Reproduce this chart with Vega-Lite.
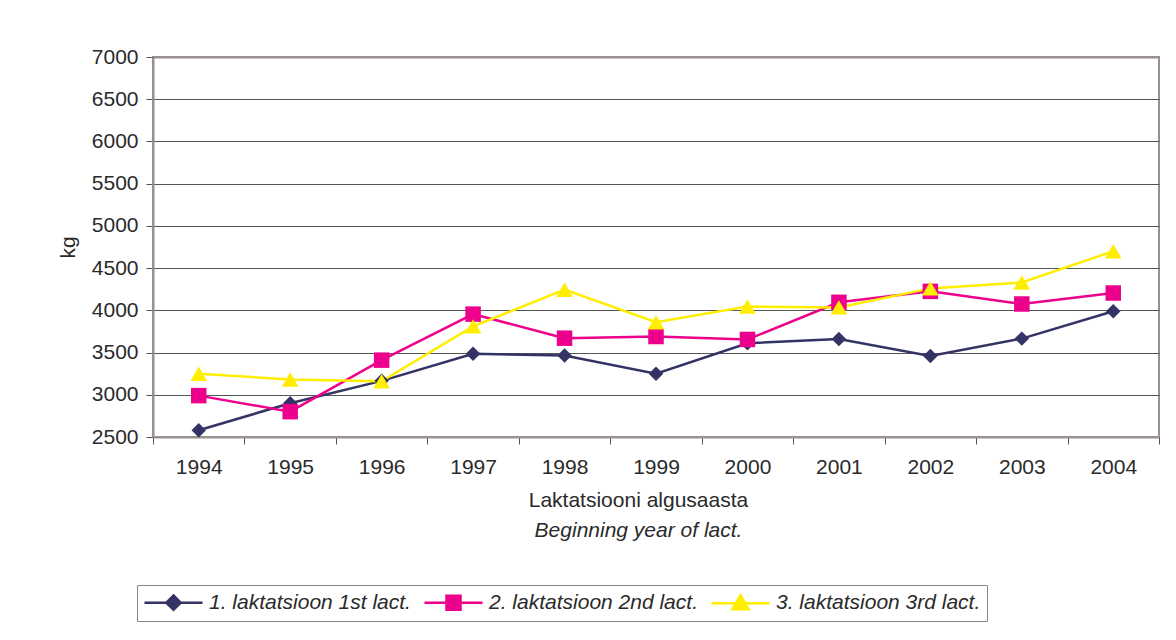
{
  "$schema": "https://vega.github.io/schema/vega-lite/v6.json",
  "width": 1006,
  "height": 380,
  "autosize": "none",
  "padding": {"left": 153, "top": 57, "right": 17, "bottom": 203},
  "background": "white",
  "config": {
    "font": "Liberation Sans",
    "view": {"stroke": "#9a908e", "strokeWidth": 2},
    "axis": {"labelFont": "Liberation Sans", "titleFont": "Liberation Sans", "labelColor": "#2a2a2a", "titleColor": "#2a2a2a"}
  },
  "data": {
    "values": [
      {"year": "1994", "series": "1. laktatsioon 1st lact.", "kg": 2580},
      {"year": "1995", "series": "1. laktatsioon 1st lact.", "kg": 2900},
      {"year": "1996", "series": "1. laktatsioon 1st lact.", "kg": 3165},
      {"year": "1997", "series": "1. laktatsioon 1st lact.", "kg": 3485},
      {"year": "1998", "series": "1. laktatsioon 1st lact.", "kg": 3465},
      {"year": "1999", "series": "1. laktatsioon 1st lact.", "kg": 3250},
      {"year": "2000", "series": "1. laktatsioon 1st lact.", "kg": 3610},
      {"year": "2001", "series": "1. laktatsioon 1st lact.", "kg": 3660},
      {"year": "2002", "series": "1. laktatsioon 1st lact.", "kg": 3460},
      {"year": "2003", "series": "1. laktatsioon 1st lact.", "kg": 3665},
      {"year": "2004", "series": "1. laktatsioon 1st lact.", "kg": 3990},
      {"year": "1994", "series": "2. laktatsioon 2nd lact.", "kg": 2990},
      {"year": "1995", "series": "2. laktatsioon 2nd lact.", "kg": 2800},
      {"year": "1996", "series": "2. laktatsioon 2nd lact.", "kg": 3410},
      {"year": "1997", "series": "2. laktatsioon 2nd lact.", "kg": 3955},
      {"year": "1998", "series": "2. laktatsioon 2nd lact.", "kg": 3670},
      {"year": "1999", "series": "2. laktatsioon 2nd lact.", "kg": 3690},
      {"year": "2000", "series": "2. laktatsioon 2nd lact.", "kg": 3655},
      {"year": "2001", "series": "2. laktatsioon 2nd lact.", "kg": 4095},
      {"year": "2002", "series": "2. laktatsioon 2nd lact.", "kg": 4225},
      {"year": "2003", "series": "2. laktatsioon 2nd lact.", "kg": 4075},
      {"year": "2004", "series": "2. laktatsioon 2nd lact.", "kg": 4205},
      {"year": "1994", "series": "3. laktatsioon 3rd lact.", "kg": 3250},
      {"year": "1995", "series": "3. laktatsioon 3rd lact.", "kg": 3180},
      {"year": "1996", "series": "3. laktatsioon 3rd lact.", "kg": 3160},
      {"year": "1997", "series": "3. laktatsioon 3rd lact.", "kg": 3810},
      {"year": "1998", "series": "3. laktatsioon 3rd lact.", "kg": 4245},
      {"year": "1999", "series": "3. laktatsioon 3rd lact.", "kg": 3860},
      {"year": "2000", "series": "3. laktatsioon 3rd lact.", "kg": 4045},
      {"year": "2001", "series": "3. laktatsioon 3rd lact.", "kg": 4035},
      {"year": "2002", "series": "3. laktatsioon 3rd lact.", "kg": 4260},
      {"year": "2003", "series": "3. laktatsioon 3rd lact.", "kg": 4330},
      {"year": "2004", "series": "3. laktatsioon 3rd lact.", "kg": 4700}
    ]
  },
  "encoding": {
    "y": {
      "field": "kg",
      "type": "quantitative",
      "scale": {"domain": [2500, 7000], "nice": false, "zero": false},
      "axis": {
        "title": "kg",
        "titleFontSize": 21,
        "titleFontWeight": "normal",
        "titlePadding": 13,
        "format": "d",
        "values": [2500, 3000, 3500, 4000, 4500, 5000, 5500, 6000, 6500, 7000],
        "labelFontSize": 21,
        "labelPadding": 8,
        "tickSize": 7,
        "tickColor": "#555",
        "domainColor": "#9a908e",
        "domainWidth": 2,
        "grid": true,
        "gridColor": {"condition": {"test": "datum.value == 7000", "value": "#9a908e"}, "value": "#555"},
        "gridWidth": {"condition": {"test": "datum.value == 7000", "value": 2}, "value": 1}
      }
    },
    "color": {
      "field": "series",
      "type": "nominal",
      "scale": {
        "domain": ["1. laktatsioon 1st lact.", "2. laktatsioon 2nd lact.", "3. laktatsioon 3rd lact."],
        "range": ["#333366", "#ec008c", "#ffee00"]
      },
      "legend": {
        "title": null,
        "orient": "none",
        "direction": "horizontal",
        "legendX": -16,
        "legendY": 528,
        "strokeColor": "#888",
        "fillColor": "white",
        "padding": 6,
        "labelFont": "Liberation Sans",
        "labelFontSize": 21,
        "labelFontStyle": "italic",
        "labelColor": "#2a2a2a",
        "labelOffset": 43,
        "labelLimit": 400,
        "columnPadding": 8,
        "symbolType": "M-1,0H4.8",
        "symbolSize": 400,
        "symbolStrokeWidth": 2.5,
        "symbolOpacity": 1,
        "encode": {
          "symbols": {
            "update": {
              "shape": {"signal": "datum.value == '1. laktatsioon 1st lact.' ? 'M-1,0H4.8M1.9,-0.72L2.62,0L1.9,0.72L1.18,0Z' : datum.value == '2. laktatsioon 2nd lact.' ? 'M-1,0H4.8M1.2,-0.7H2.6V0.7H1.2Z' : 'M-1,0H4.8M1.9,-0.8L2.72,0.6L1.08,0.6Z'"},
              "size": {"value": 400},
              "fill": {"scale": "color", "field": "value"},
              "stroke": {"scale": "color", "field": "value"},
              "strokeWidth": {"value": 2.5},
              "opacity": {"value": 1},
              "fillOpacity": {"value": 1},
              "strokeOpacity": {"value": 1}
            }
          }
        }
      }
    }
  },
  "layer": [
    {
      "mark": {"type": "line", "strokeWidth": 2.5},
      "encoding": {
        "x": {
          "field": "year",
          "type": "ordinal",
          "bandPosition": 0.5,
          "scale": {"type": "band", "paddingInner": 0, "paddingOuter": 0},
          "axis": {
            "title": "Laktatsiooni algusaasta",
            "titleFontSize": 21,
            "titleFontWeight": "normal",
            "titlePadding": 12,
            "titleX": 485,
            "labelAngle": 0,
            "labelFontSize": 21,
            "labelPadding": 12,
            "tickBand": "extent",
            "tickSize": 7,
            "tickColor": "#555",
            "domainColor": "#9a908e",
            "domainWidth": 2,
            "grid": false
          }
        }
      }
    },
    {
      "transform": [{"filter": "datum.series == '1. laktatsioon 1st lact.'"}],
      "mark": {"type": "point", "filled": true, "opacity": 1, "shape": "diamond", "size": 210},
      "encoding": {
        "x": {
          "field": "year",
          "type": "ordinal",
          "bandPosition": 0.5,
          "scale": {"type": "band", "paddingInner": 0, "paddingOuter": 0},
          "axis": {
            "orient": "bottom",
            "offset": 74,
            "title": "Beginning year of lact.",
            "titleFontSize": 21,
            "titleFontWeight": "normal",
            "titleFontStyle": "italic",
            "titlePadding": 8,
            "titleX": 485,
            "labels": false,
            "ticks": false,
            "domain": false,
            "grid": false
          }
        }
      }
    },
    {
      "transform": [{"filter": "datum.series == '2. laktatsioon 2nd lact.'"}],
      "mark": {"type": "point", "filled": true, "opacity": 1, "shape": "square", "size": 240},
      "encoding": {
        "x": {
          "field": "year",
          "type": "ordinal",
          "bandPosition": 0.5,
          "scale": {"type": "band", "paddingInner": 0, "paddingOuter": 0},
          "axis": null
        }
      }
    },
    {
      "transform": [{"filter": "datum.series == '3. laktatsioon 3rd lact.'"}],
      "mark": {"type": "point", "filled": true, "opacity": 1, "shape": "triangle-up", "size": 280},
      "encoding": {
        "x": {
          "field": "year",
          "type": "ordinal",
          "bandPosition": 0.5,
          "scale": {"type": "band", "paddingInner": 0, "paddingOuter": 0},
          "axis": null
        }
      }
    }
  ],
  "resolve": {"axis": {"x": "independent"}}
}
